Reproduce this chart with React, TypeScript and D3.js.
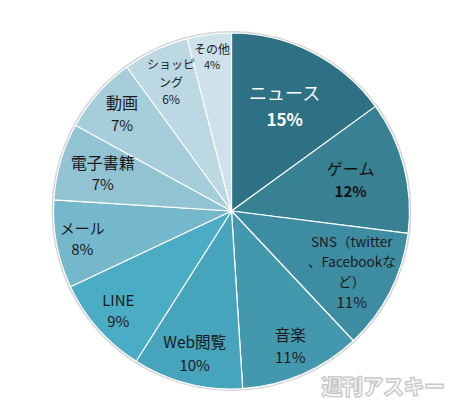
import React from "react";
import * as d3 from "d3";

const categories = ["ニュース", "ゲーム", "SNS（twitter、Facebookなど）", "音楽", "Web閲覧", "LINE", "メール", "電子書籍", "動画", "ショッピング", "その他"];
const values = [15, 12, 11, 11, 10, 9, 8, 7, 7, 6, 4];
const pctLabels = ["15%", "12%", "11%", "11%", "10%", "9%", "8%", "7%", "7%", "6%", "4%"];
// how the category names wrap inside their slices
const nameLines = [
  ["ニュース"],
  ["ゲーム"],
  ["SNS（twitter", "、Facebookな", "ど）"],
  ["音楽"],
  ["Web閲覧"],
  ["LINE"],
  ["メール"],
  ["電子書籍"],
  ["動画"],
  ["ショッピ", "ング"],
  ["その他"],
];

// layout / style (not data)
const colors = ["#2E7184", "#378193", "#3D8CA2", "#4398AE", "#47A4BD", "#4BACC6", "#75B8CC", "#91C3D3", "#A6CDDA", "#BBD8E3", "#CDE2EA"];
const labelRadius = [117, 123, 135, 148, 148, 151, 152, 134, 146, 142, 155];
const nameSize = [18, 16, 13.5, 15.5, 15.5, 15, 15, 16, 16, 12, 12];
const pctSize = [17, 15, 15, 15, 15, 15, 15, 15, 15, 12, 11];
const lineGap = [27, 23, 20, 22, 23, 21, 21, 21, 23, 17.5, 15.5];
const textColor = ["#ffffff", "#111111", "#1a1a1a", "#1a1a1a", "#1a1a1a", "#1a1a1a", "#1a1a1a", "#1a1a1a", "#1a1a1a", "#222222", "#222222"];
const pctBold = [true, true, false, false, false, false, false, false, false, false, false];

const W = 464;
const H = 417;
const cx = 231.5;
const cy = 211;
const R = 178;
const FONT = "'Noto Sans CJK JP', 'Noto Sans', sans-serif";

export default function App() {
  const pie = d3.pie<number>().sort(null).value((d) => d)(values);
  const arc = d3.arc<d3.PieArcDatum<number>>().innerRadius(0).outerRadius(R);

  return (
    <div style={{ position: "fixed", left: 0, top: 0 }}>
      <svg width={W} height={H} style={{ display: "block", background: "#fff" }}>
        <g transform={`translate(${cx},${cy})`}>
          <circle r={R + 1} fill="none" stroke="#d4d4d4" strokeWidth={2} />
          {pie.map((p, i) => (
            <path key={i} d={arc(p) || ""} fill={colors[i]} stroke="#ffffff" strokeWidth={1.2} strokeLinejoin="round" />
          ))}
          {pie.map((p, i) => {
            const mid = (p.startAngle + p.endAngle) / 2;
            const lx = labelRadius[i] * Math.sin(mid);
            const ly = -labelRadius[i] * Math.cos(mid);
            const lines = nameLines[i];
            const n = lines.length + 1;
            const g = lineGap[i];
            const top = ly - ((n - 1) * g) / 2;
            return (
              <g key={"l" + i} fill={textColor[i]} fontFamily={FONT} textAnchor="middle">
                {lines.map((t, j) => (
                  <text key={j} x={lx} y={top + j * g} dy="0.36em" fontSize={nameSize[i]}>
                    {t}
                  </text>
                ))}
                <text x={lx} y={top + lines.length * g} dy="0.36em" fontSize={pctSize[i]} fontWeight={pctBold[i] ? 700 : 400}>
                  {pctLabels[i]}
                </text>
              </g>
            );
          })}
        </g>
        <text x={383} y={394} textAnchor="middle" fontFamily={FONT} fontWeight={900} fontSize={21} fill="#f7f7f7" stroke="#c9c9c9" strokeWidth={1.3} letterSpacing={-0.5}>
          週刊アスキー
        </text>
      </svg>
    </div>
  );
}
